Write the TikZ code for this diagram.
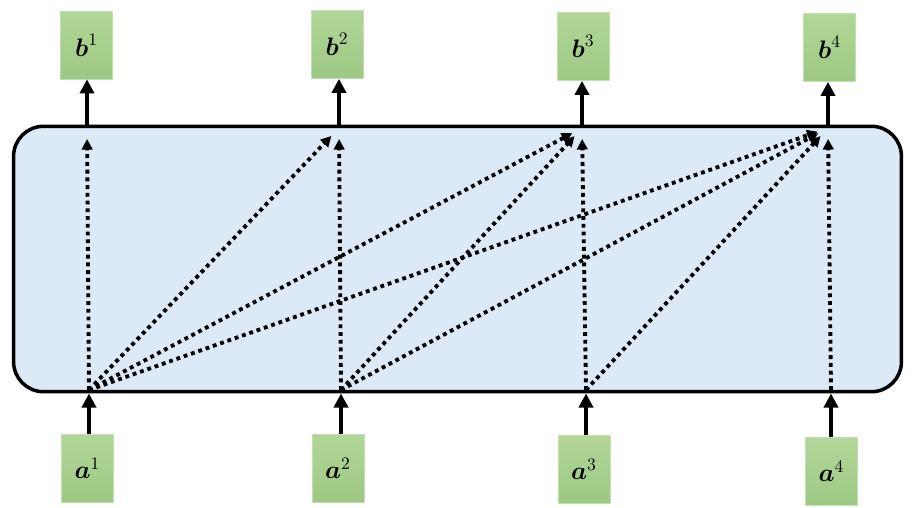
\documentclass[tikz,border=0pt]{standalone}
\usepackage{amsmath}
\usepackage{amssymb}
\usepackage{xcolor}
\usetikzlibrary{arrows.meta}

\definecolor{layerblue}{HTML}{DCE9F7}
\definecolor{boxgreentop}{HTML}{B1D698}
\definecolor{boxgreenbot}{HTML}{9DC983}
\definecolor{boxedge}{HTML}{C4DFB3}

\tikzset{
  vecbox/.style={shape=rectangle, draw=boxedge, line width=0.4pt, top color=boxgreentop, bottom color=boxgreenbot, minimum width=1.04cm, minimum height=1.36cm, font=\Large},
  feed/.style={line width=2.4pt, -{Triangle[length=8pt,width=8pt]}},
  attend/.style={line width=2.2pt, dash pattern=on 2.2pt off 2.2pt, -{Triangle[length=6pt,width=6pt]}, shorten >=0.22cm}
}

\begin{document}
\begin{tikzpicture}[x=0.02cm, y=-0.02cm]
	\useasboundingbox (0, 0) rectangle (912, 507);
	% Paths, nodes and wires:
	\node[shape=rectangle, draw, line width=2pt, fill=layerblue, rounded corners=0.6cm, minimum width=17.76cm, minimum height=5.31cm](attn) at (457.5, 259){};
	\node[vecbox](b1) at (86.5, 45){$\boldsymbol{b}^1$};
	\node[vecbox](b2) at (337, 44.5){$\boldsymbol{b}^2$};
	\node[vecbox](b3) at (583, 46.5){$\boldsymbol{b}^3$};
	\node[vecbox](b4) at (829.5, 47.5){$\boldsymbol{b}^4$};
	\node[vecbox](a1) at (87.5, 468){$\boldsymbol{a}^1$};
	\node[vecbox](a2) at (338, 468){$\boldsymbol{a}^2$};
	\node[vecbox](a3) at (584, 469.5){$\boldsymbol{a}^3$};
	\node[vecbox](a4) at (831.5, 471.5){$\boldsymbol{a}^4$};
	\coordinate (s1) at (89, 390);
	\coordinate (s2) at (341, 390);
	\coordinate (s3) at (586, 390);
	\coordinate (s4) at (831, 390);
	\coordinate (t1) at (87, 128);
	\coordinate (t2) at (339, 128);
	\coordinate (t3) at (582, 128);
	\coordinate (t4) at (828, 128);
	\draw[feed] (a1.north -| s1) -- (s1 |- attn.south);
	\draw[feed] (a2.north -| s2) -- (s2 |- attn.south);
	\draw[feed] (a3.north -| s3) -- (s3 |- attn.south);
	\draw[feed] (a4.north -| s4) -- (s4 |- attn.south);
	\draw[feed] (t1 |- attn.north) -- (b1.south -| t1);
	\draw[feed] (t2 |- attn.north) -- (b2.south -| t2);
	\draw[feed] (t3 |- attn.north) -- (b3.south -| t3);
	\draw[feed] (t4 |- attn.north) -- (b4.south -| t4);
	\draw[attend] (s1) -- (t1);
	\draw[attend] (s1) -- (t2);
	\draw[attend] (s1) -- (t3);
	\draw[attend] (s1) -- (t4);
	\draw[attend] (s2) -- (t2);
	\draw[attend] (s2) -- (t3);
	\draw[attend] (s2) -- (t4);
	\draw[attend] (s3) -- (t3);
	\draw[attend] (s3) -- (t4);
	\draw[attend] (s4) -- (t4);
\end{tikzpicture}
\end{document}
